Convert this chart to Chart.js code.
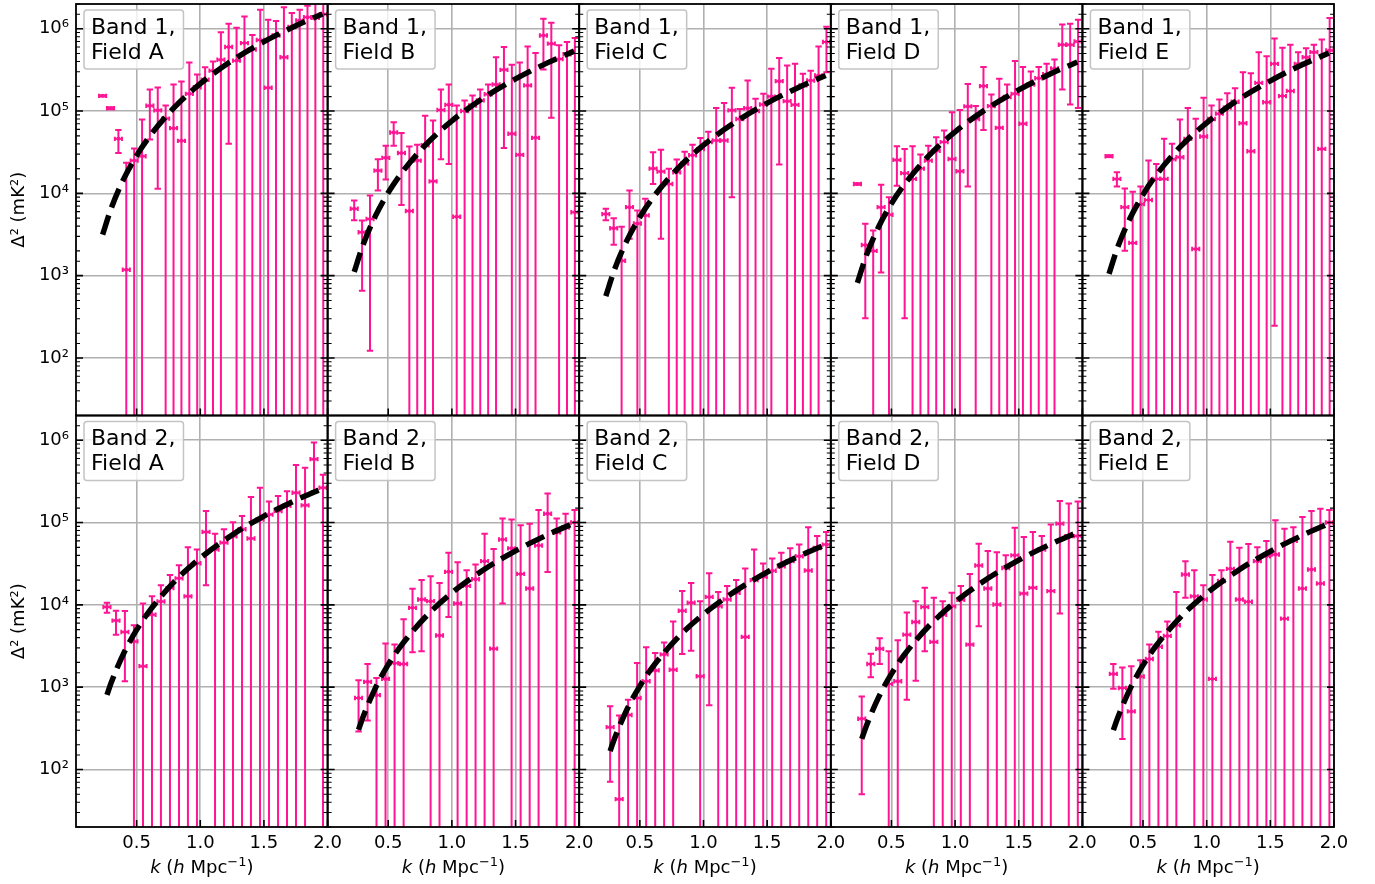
<!DOCTYPE html>
<html>
<head>
<meta charset="utf-8">
<script src="https://cdn.jsdelivr.net/npm/chart.js@4.4.0/dist/chart.umd.min.js"></script>
<style>
  html, body { margin: 0; padding: 0; background: #fff; }
  #wrap { position: relative; width: 1375px; height: 884px; }
  #wrap canvas { position: absolute; left: 0; top: 0; }
</style>
</head>
<body>
<div id="wrap"></div>
<script>
// k bins (h Mpc^-1)
const kBand1 = [0.233, 0.295, 0.357, 0.419, 0.481, 0.543, 0.604, 0.666, 0.728, 0.790, 0.852, 0.914, 0.976, 1.038, 1.100, 1.162, 1.223, 1.285, 1.347, 1.409, 1.471, 1.533, 1.595, 1.657, 1.719, 1.781, 1.842, 1.904, 1.966];
const kBand2 = [0.267, 0.338, 0.408, 0.479, 0.550, 0.621, 0.691, 0.762, 0.833, 0.903, 0.974, 1.045, 1.116, 1.186, 1.257, 1.328, 1.398, 1.469, 1.540, 1.611, 1.681, 1.752, 1.823, 1.893, 1.964];
const kModel1 = [0.233, 0.3, 0.4, 0.5, 0.6, 0.8, 1.0, 1.25, 1.5, 1.75, 1.96];
const kModel2 = [0.267, 0.3, 0.4, 0.5, 0.6, 0.8, 1.0, 1.25, 1.5, 1.75, 1.99];

const bandNames = ['Band 1,', 'Band 2,'];
const fieldNames = ['Field A', 'Field B', 'Field C', 'Field D', 'Field E'];
const xTickLabels = ['0.5', '1.0', '1.5', '2.0'];

// Band 1 (lo = 0 -> lower error goes below the axis)
const b1aVal = [1.53e5, 1.08e5, 4.6e4, 1.18e3, 2.5e4, 2.83e4, 1.16e5, 1.02e5, 8.1e4, 6.2e4, 4.35e4, 1.62e5, 1.95e5, 2.4e5, 3.1e5, 4.2e5, 6.0e5, 4.1e5, 6.7e5, 5.6e5, 7.3e5, 1.92e5, 8.3e5, 4.5e5, 1.05e6, 1.26e6, 1.38e6, 1.36e6, 1.5e6];
const b1aHi  = [1.56e5, 1.11e5, 5.9e4, 2.35e4, 3.5e4, 7.9e4, 1.83e5, 1.94e5, 1.17e5, 2.1e5, 2.29e5, 3.9e5, 2.79e5, 3.4e5, 4.0e5, 9.1e5, 1.15e6, 1.03e6, 1.41e6, 8.4e5, 1.7e6, 1.29e6, 1.24e6, 1.83e6, 1.55e6, 1.7e6, 1.9e6, 3e6, 3e6];
const b1aLo  = [1.5e5, 1.05e5, 3.1e4, 0, 0, 0, 4.5e4, 1.14e4, 0, 0, 0, 0, 0, 0, 0, 0, 4.0e4, 0, 0, 0, 0, 0, 0, 0, 0, 0, 0, 0, 0];
const b1aModel = [3.15e3, 6.55e3, 1.51e4, 2.88e4, 4.89e4, 1.126e5, 2.15e5, 4.11e5, 6.97e5, 1.089e6, 1.513e6];

const b1bVal = [6.5e3, 3.37e3, 4.89e3, 1.89e4, 2.7e4, 5.5e4, 3.1e4, 6.1e3, 2.5e4, 3.85e4, 1.4e4, 1.03e5, 1.19e5, 5.2e3, 1.0e5, 1.17e5, 1.35e5, 1.6e5, 2.1e5, 3.17e5, 5.3e4, 2.94e4, 2.05e5, 4.73e4, 8.3e5, 6.6e5, 4.3e5, 4.9e5, 5.9e3];
const b1bHi  = [8.2e3, 4.67e3, 9.4e3, 2.6e4, 3.8e4, 7.3e4, 5.4e4, 3.7e4, 3.9e4, 8.8e4, 7.7e4, 1.83e5, 2.1e5, 1.17e5, 1.34e5, 1.55e5, 1.83e5, 2.1e5, 4.5e5, 6.0e5, 3.65e5, 3.9e5, 6.1e5, 5.06e5, 1.32e6, 1.18e6, 6.3e5, 6.9e5, 7.7e5];
const b1bLo  = [4.7e3, 658, 122, 1.08e4, 1.47e4, 3.8e4, 7.2e3, 0, 0, 0, 0, 2.6e4, 2.28e4, 0, 0, 0, 0, 0, 0, 3.57e4, 0, 0, 0, 0, 3.2e5, 8.3e4, 0, 0, 0];
const b1bModel = [1.11e3, 2.31e3, 5.33e3, 1.02e4, 1.73e4, 3.98e4, 7.6e4, 1.45e5, 2.46e5, 3.85e5, 5.35e5];

const b1cVal = [5.6e3, 3.77e3, 1.52e3, 6.8e3, 4.3e3, 5.4e3, 2.0e4, 1.84e4, 1.3e4, 1.8e4, 2.3e4, 2.9e4, 3.45e4, 4.2e4, 4.39e4, 4.39e4, 1.02e5, 8e4, 1.08e5, 1.0e5, 1.2e5, 1.5e5, 2.31e5, 1.32e5, 1.19e5, 2.05e5, 2.35e5, 2.7e5, 6.9e5];
const b1cHi  = [6.5e3, 4.99e3, 3.94e3, 1.08e4, 6.2e3, 8.6e3, 3.16e4, 3.4e4, 1.99e4, 2.58e4, 3.2e4, 3.9e4, 4.7e4, 5.6e4, 1.09e5, 1.25e5, 1.92e5, 1.06e5, 2.36e5, 1.41e5, 1.62e5, 3.27e5, 4.4e5, 3.58e5, 3.75e5, 2.84e5, 3.1e5, 6.1e5, 1.06e6];
const b1cLo  = [4.7e3, 2.38e3, 0, 2.8e3, 0, 0, 1.3e4, 2.8e3, 0, 0, 0, 0, 0, 0, 0, 0, 8.97e3, 0, 0, 0, 0, 0, 2.24e4, 0, 0, 0, 0, 0, 2.97e5];
const b1cModel = [563, 1.17e3, 2.7e3, 5.16e3, 8.75e3, 2.02e4, 3.85e4, 7.35e4, 1.25e5, 1.95e5, 2.71e5];

const b1dVal = [1.3e4, 2.36e3, 2e3, 6.8e3, 5.5e3, 2.55e4, 1.76e4, 1.5e4, 2e4, 2.5e4, 3.3e4, 4.2e4, 2.62e4, 1.86e4, 1.14e5, 8e4, 2.01e5, 1.15e5, 6.25e4, 1.48e5, 1.62e5, 7.0e4, 2.1e5, 2.5e5, 2.8e5, 3.3e5, 6.4e5, 6.4e5, 7.0e5];
const b1dHi  = [1.33e4, 4.26e3, 3.53e3, 1.27e4, 8.97e3, 3.74e4, 3.47e4, 3.74e4, 2.96e4, 3.8e4, 4.8e4, 5.8e4, 9.7e4, 1.03e5, 2.14e5, 1.15e5, 3.42e5, 1.59e5, 2.47e5, 2.1e5, 4.05e5, 3.42e5, 3.03e5, 3.42e5, 3.75e5, 4.24e5, 1.13e6, 1.15e6, 1.29e6];
const b1dLo  = [1.27e4, 303, 0, 1.09e3, 0, 1.24e4, 303, 0, 0, 0, 0, 0, 0, 0, 1.21e4, 0, 5.9e4, 0, 0, 0, 0, 0, 0, 0, 0, 0, 1.83e5, 1.2e5, 1.09e5];
const b1dModel = [819, 1.71e3, 3.93e3, 7.5e3, 1.27e4, 2.93e4, 5.6e4, 1.07e5, 1.81e5, 2.84e5, 3.94e5];

const b1eVal = [2.83e4, 1.5e4, 6.8e3, 2.5e3, 7.4e3, 8.3e3, 1.5e4, 1.5e4, 2.6e4, 2.75e4, 4.6e4, 2.11e3, 4.9e4, 8e4, 9.3e4, 1.1e5, 1.3e5, 7.1e4, 3.25e4, 2.2e5, 1.28e5, 3.75e5, 1.52e5, 1.75e5, 3.75e5, 4.5e5, 5.2e5, 3.47e4, 5.46e5];
const b1eHi  = [2.9e4, 1.81e4, 1.15e4, 1.05e4, 1.21e4, 2.5e4, 2.28e4, 4.6e4, 4.0e4, 7.9e4, 1.09e5, 8.06e4, 1.45e5, 1.17e5, 1.38e5, 1.65e5, 1.9e5, 2.97e5, 2.89e5, 5.2e5, 4.65e5, 7.6e5, 5.9e5, 6.4e5, 5.2e5, 5.8e5, 6.4e5, 7.4e5, 1.35e6];
const b1eLo  = [2.76e4, 1.21e4, 2.01e3, 0, 0, 0, 0, 0, 0, 0, 0, 0, 0, 0, 0, 0, 0, 0, 0, 0, 0, 247, 0, 0, 0, 0, 0, 0, 0];
const b1eModel = [1.05e3, 2.19e3, 5.05e3, 9.65e3, 1.64e4, 3.77e4, 7.2e4, 1.38e5, 2.33e5, 3.65e5, 5.07e5];

// Band 2
const b2aVal = [9.4e3, 6.44e3, 4.69e3, 3.6e3, 1.8e3, 7.6e3, 1.1e4, 1.6e4, 2.1e4, 1.27e4, 3.2e4, 7.7e4, 4.7e4, 5.7e4, 6.8e4, 8.3e4, 6.4e4, 1.09e5, 1.25e5, 1.38e5, 1.6e5, 2.3e5, 1.62e5, 5.9e5, 2.65e5];
const b2aHi  = [1.06e4, 8.5e3, 8.4e3, 5.66e3, 1.04e4, 1.27e4, 1.73e4, 2.3e4, 3.04e4, 5.0e4, 4.7e4, 1.38e5, 7.3e4, 8.3e4, 1.01e5, 1.2e5, 2.04e5, 2.65e5, 1.8e5, 2.1e5, 2.4e5, 5.0e5, 4.65e5, 9.4e5, 3.8e5];
const b2aLo  = [8.0e3, 4.35e3, 1.18e3, 0, 0, 0, 0, 0, 0, 0, 0, 1.73e4, 0, 0, 0, 0, 0, 0, 0, 0, 0, 0, 0, 2.4e5, 0];
const b2aModel = [804, 1.13e3, 2.6e3, 4.96e3, 8.41e3, 1.94e4, 3.7e4, 7.07e4, 1.2e5, 1.87e5, 2.72e5];

const b2bVal = [738, 1.16e3, 800, 1.26e3, 1.95e3, 1.91e3, 9.2e3, 1.16e4, 1.11e4, 4.24e3, 2.52e4, 1.04e4, 1.7e4, 2.05e4, 3.4e4, 2.94e3, 6.24e4, 4.86e4, 2.38e4, 1.58e4, 5.27e4, 1.28e5, 7.6e4, 8.7e4, 1.0e5];
const b2bHi  = [1.21e3, 1.91e3, 1.29e3, 3.4e3, 3.29e3, 6.7e3, 1.57e4, 2.0e4, 2.23e4, 1.84e4, 4.3e4, 3.3e4, 2.64e4, 3.1e4, 7.3e4, 4.76e4, 1.12e5, 1.09e5, 9.3e4, 9.7e4, 1.42e5, 2.26e5, 1.12e5, 1.28e5, 1.42e5];
const b2bLo  = [290, 394, 0, 0, 0, 0, 2.65e3, 2.73e3, 0, 0, 7.1e3, 0, 0, 0, 0, 0, 1.04e4, 0, 0, 0, 0, 2.5e4, 0, 0, 0];
const b2bModel = [304, 426, 982, 1.88e3, 3.18e3, 7.33e3, 1.4e4, 2.67e4, 4.54e4, 7.09e4, 1.03e5];

const b2cVal = [327, 43.6, 460, 738, 1.18e3, 1.6e3, 2.5e3, 1.63e3, 8.5e3, 1.06e4, 1.36e3, 1.25e4, 9.6e3, 1.16e4, 1.4e4, 4.08e3, 2.0e4, 2.2e4, 2.6e4, 2.95e4, 3.4e4, 3.9e4, 2.62e4, 4.9e4, 5.4e4];
const b2cHi  = [585, 454, 705, 1.97e3, 3.05e3, 2.6e3, 3.5e3, 6.3e3, 1.47e4, 1.84e4, 1.11e4, 2.43e4, 1.43e4, 1.69e4, 2.0e4, 2.77e4, 4.7e4, 3.18e4, 3.66e4, 4.3e4, 4.86e4, 5.4e4, 8.8e4, 6.85e4, 7.66e4];
const b2cLo  = [71, 0, 0, 0, 0, 0, 0, 0, 2.53e3, 2.78e3, 0, 601, 0, 0, 0, 0, 0, 0, 0, 0, 0, 0, 0, 0, 0];
const b2cModel = [167, 235, 540, 1.03e3, 1.75e3, 4.03e3, 7.7e3, 1.47e4, 2.5e4, 3.9e4, 5.66e4];

const b2dVal = [414, 1.91e3, 2.92e3, 1.09e3, 1.18e3, 4.35e3, 6.2e3, 9.4e3, 3.55e3, 7.6e3, 9.6e3, 1.15e4, 3.29e3, 3.01e4, 1.58e4, 1.01e4, 2.8e4, 4.0e4, 1.37e4, 1.61e4, 4.7e4, 1.47e4, 9.7e4, 6.85e4, 6.85e4];
const b2dHi  = [773, 2.54e3, 3.93e3, 2.73e3, 3.72e3, 8.1e3, 1.11e4, 1.61e4, 1.22e4, 1.11e4, 1.4e4, 1.69e4, 2.38e4, 5.52e4, 4.5e4, 4.37e4, 4.0e4, 8.65e4, 6.7e4, 7.66e4, 6.85e4, 9.5e4, 1.83e5, 1.7e5, 1.8e5];
const b2dLo  = [50, 1.32e3, 1.91e3, 0, 0, 705, 1.2e3, 2.73e3, 0, 0, 0, 0, 0, 5.5e3, 0, 0, 0, 0, 0, 0, 0, 0, 7.85e3, 0, 0];
const b2dModel = [235, 329, 758, 1.45e3, 2.46e3, 5.65e3, 1.08e4, 2.06e4, 3.5e4, 5.47e4, 7.94e4];

const b2eVal = [1.45e3, 977, 508, 1.35e3, 2.2e3, 3.1e3, 4.2e3, 5.66e3, 2.34e4, 1.27e4, 1.16e4, 1.26e3, 1.95e4, 2.74e4, 1.16e4, 1.09e4, 3.4e4, 3.9e4, 4.1e4, 6.8e3, 6.0e4, 1.58e4, 2.69e4, 1.82e4, 1.0e5];
const b2eHi  = [1.91e3, 1.74e3, 1.8e3, 2.12e3, 3.29e3, 4.7e3, 6.3e3, 1.43e4, 3.4e4, 2.64e4, 1.73e4, 2.3e4, 2.64e4, 5.85e4, 4.94e4, 5.5e4, 5.0e4, 5.96e4, 1.07e5, 8.4e4, 8.8e4, 1.17e5, 1.38e5, 1.47e5, 1.42e5];
const b2eLo  = [960, 234, 0, 0, 0, 0, 0, 0, 1.22e4, 0, 0, 0, 0, 0, 0, 0, 0, 0, 0, 0, 0, 0, 0, 0, 0];
const b2eModel = [300, 420, 968, 1.85e3, 3.14e3, 7.23e3, 1.38e4, 2.64e4, 4.47e4, 6.99e4, 1.02e5];

const W = 1375, H = 884;
const colX = [76, 327.6, 579.2, 830.8, 1082.4, 1334];
const rowY = [4, 415.5, 827];
const pink = '#ff1493';
const FONT = 'DejaVu Sans';
const xErr = 0.028;

Chart.defaults.font.family = FONT;

const panels = [
  [0, 0, kBand1, b1aVal, b1aHi, b1aLo, kModel1, b1aModel],
  [0, 1, kBand1, b1bVal, b1bHi, b1bLo, kModel1, b1bModel],
  [0, 2, kBand1, b1cVal, b1cHi, b1cLo, kModel1, b1cModel],
  [0, 3, kBand1, b1dVal, b1dHi, b1dLo, kModel1, b1dModel],
  [0, 4, kBand1, b1eVal, b1eHi, b1eLo, kModel1, b1eModel],
  [1, 0, kBand2, b2aVal, b2aHi, b2aLo, kModel2, b2aModel],
  [1, 1, kBand2, b2bVal, b2bHi, b2bLo, kModel2, b2bModel],
  [1, 2, kBand2, b2cVal, b2cHi, b2cLo, kModel2, b2cModel],
  [1, 3, kBand2, b2dVal, b2dHi, b2dLo, kModel2, b2dModel],
  [1, 4, kBand2, b2eVal, b2eHi, b2eLo, kModel2, b2eModel]
];

function isDecade(v) {
  const l = Math.log10(v);
  return Math.abs(l - Math.round(l)) < 1e-6;
}
const supDigits = { '0': '⁰', '1': '¹', '2': '²', '3': '³', '4': '⁴', '5': '⁵', '6': '⁶', '7': '⁷', '8': '⁸', '9': '⁹', '-': '⁻' };
function powLabel(v) {
  const e = Math.round(Math.log10(v));
  return '10' + String(e).split('').map(c => supDigits[c]).join('');
}

// error bars, drawn under the datasets
const errorBars = {
  id: 'errorBars',
  beforeDatasetsDraw(chart) {
    const p = chart.canvas.panel;
    const { ctx, chartArea: a, scales: { x, y } } = chart;
    ctx.save();
    ctx.beginPath();
    ctx.rect(a.left, a.top, a.right - a.left, a.bottom - a.top);
    ctx.clip();
    ctx.strokeStyle = pink;
    ctx.lineWidth = 2;
    p.k.forEach((k, i) => {
      const px = x.getPixelForValue(k);
      const py = y.getPixelForValue(p.val[i]);
      const top = y.getPixelForValue(p.hi[i]);
      const bot = p.lo[i] > 0 ? y.getPixelForValue(p.lo[i]) : a.bottom + 5;
      const x0 = x.getPixelForValue(k - xErr);
      const x1 = x.getPixelForValue(k + xErr);
      ctx.beginPath();
      ctx.moveTo(px, top); ctx.lineTo(px, bot);
      ctx.moveTo(px - 3.2, top); ctx.lineTo(px + 3.2, top);
      if (p.lo[i] > 0) { ctx.moveTo(px - 3.2, bot); ctx.lineTo(px + 3.2, bot); }
      ctx.moveTo(x0, py); ctx.lineTo(x1, py);
      ctx.moveTo(x0, py - 2.2); ctx.lineTo(x0, py + 2.2);
      ctx.moveTo(x1, py - 2.2); ctx.lineTo(x1, py + 2.2);
      ctx.stroke();
    });
    ctx.restore();
  }
};

// inward ticks, frame, text box, x title
const frame = {
  id: 'frame',
  afterDraw(chart) {
    const p = chart.canvas.panel;
    const { ctx, chartArea: a, scales: { x, y } } = chart;
    ctx.save();
    ctx.strokeStyle = '#000';
    y.ticks.forEach(t => {
      const py = y.getPixelForValue(t.value);
      if (py < a.top || py > a.bottom) return;
      const major = isDecade(t.value);
      const len = major ? 7 : 4;
      ctx.lineWidth = major ? 1.6 : 1.1;
      ctx.beginPath();
      ctx.moveTo(a.left, py); ctx.lineTo(a.left + len, py);
      ctx.moveTo(a.right, py); ctx.lineTo(a.right - len, py);
      ctx.stroke();
    });
    ctx.lineWidth = 1.6;
    x.ticks.forEach(t => {
      const px = x.getPixelForValue(t.value);
      ctx.beginPath();
      ctx.moveTo(px, a.bottom); ctx.lineTo(px, a.bottom - 7);
      ctx.stroke();
    });
    ctx.lineWidth = 1.8;
    ctx.strokeRect(a.left, a.top, a.right - a.left, a.bottom - a.top);

    // text box
    ctx.font = '22px "' + FONT + '"';
    const lines = [bandNames[p.row], fieldNames[p.col]];
    const tw = Math.max(...lines.map(s => ctx.measureText(s).width));
    const bx = a.left + 8, by = a.top + 6, bw = tw + 15, bh = 59;
    ctx.beginPath();
    ctx.roundRect(bx, by, bw, bh, 3);
    ctx.fillStyle = 'rgba(255,255,255,0.8)';
    ctx.fill();
    ctx.strokeStyle = '#c4c4c4';
    ctx.lineWidth = 1.5;
    ctx.stroke();
    ctx.fillStyle = '#000';
    ctx.textBaseline = 'alphabetic';
    ctx.textAlign = 'left';
    ctx.fillText(lines[0], bx + 7, a.top + 29.5);
    ctx.fillText(lines[1], bx + 7, a.top + 54.5);

    // x axis title with italic k and h
    if (p.row === 1) {
      const segs = [
        ['k', 'italic 18px', 0], [' (', '18px', 0], ['h', 'italic 18px', 0],
        [' Mpc', '18px', 0], ['−1', '13px', -7], [')', '18px', 0]
      ];
      let total = 0;
      segs.forEach(s => { ctx.font = s[1] + ' "' + FONT + '"'; total += ctx.measureText(s[0]).width; });
      let cx = (a.left + a.right) / 2 - total / 2;
      segs.forEach(s => {
        ctx.font = s[1] + ' "' + FONT + '"';
        ctx.fillText(s[0], cx, 873 + s[2]);
        cx += ctx.measureText(s[0]).width;
      });
    }
    ctx.restore();
  }
};

const wrap = document.getElementById('wrap');

panels.forEach(row => {
  const [r, c, k, val, hi, lo, mk, model] = row;
  const p = { row: r, col: c, k: k, val: val, hi: hi, lo: lo };
  const canvas = document.createElement('canvas');
  canvas.width = W;
  canvas.height = H;
  canvas.panel = p;
  wrap.appendChild(canvas);

  const yAxisW = c === 0 ? 71 : 0;
  const xAxisH = r === 1 ? 57 : 0;

  new Chart(canvas, {
    type: 'scatter',
    data: {
      datasets: [
        {
          data: mk.map((kk, i) => ({ x: kk, y: model[i] })),
          showLine: true,
          borderColor: '#000',
          borderWidth: 5.5,
          borderDash: [20, 8.5],
          borderCapStyle: 'butt',
          cubicInterpolationMode: 'monotone',
          pointRadius: 0,
          order: 0
        },
        {
          data: k.map((kk, i) => ({ x: kk, y: val[i] })),
          backgroundColor: pink,
          borderColor: pink,
          pointRadius: 2,
          borderWidth: 0,
          order: 1
        }
      ]
    },
    options: {
      responsive: false,
      animation: false,
      events: [],
      layout: {
        padding: {
          left: colX[c] - yAxisW,
          right: W - colX[c + 1],
          top: rowY[r],
          bottom: H - rowY[r + 1] - xAxisH
        }
      },
      plugins: {
        legend: { display: false },
        tooltip: { enabled: false }
      },
      scales: {
        x: {
          type: 'linear',
          min: 0.024,
          max: 2.0,
          afterFit: s => { s.height = xAxisH; s.paddingLeft = 0; s.paddingRight = 0; },
          ticks: {
            display: r === 1,
            stepSize: 0.5,
            includeBounds: false,
            autoSkip: false,
            maxRotation: 0,
            padding: 6,
            color: '#000',
            font: { size: 18 },
            callback: (v, i) => xTickLabels[Math.round(v / 0.5) - 1]
          },
          grid: { color: '#b0b0b0', lineWidth: 1.6, drawTicks: false },
          border: { display: false }
        },
        y: {
          type: 'logarithmic',
          min: 20,
          max: 2e6,
          afterFit: s => { s.width = yAxisW; s.paddingTop = 0; s.paddingBottom = 0; },
          ticks: {
            display: c === 0,
            autoSkip: false,
            padding: 7,
            color: '#000',
            font: { size: 18 },
            callback: v => isDecade(v) ? powLabel(v) : ''
          },
          grid: {
            color: ctx => (ctx.tick && isDecade(ctx.tick.value)) ? '#b0b0b0' : 'rgba(0,0,0,0)',
            lineWidth: 1.6,
            drawTicks: false
          },
          border: { display: false },
          title: {
            display: c === 0,
            text: 'Δ² (mK²)',
            color: '#000',
            font: { size: 18 },
            padding: { top: 4, bottom: 4 }
          }
        }
      }
    },
    plugins: [errorBars, frame]
  });
});
</script>
</body>
</html>
